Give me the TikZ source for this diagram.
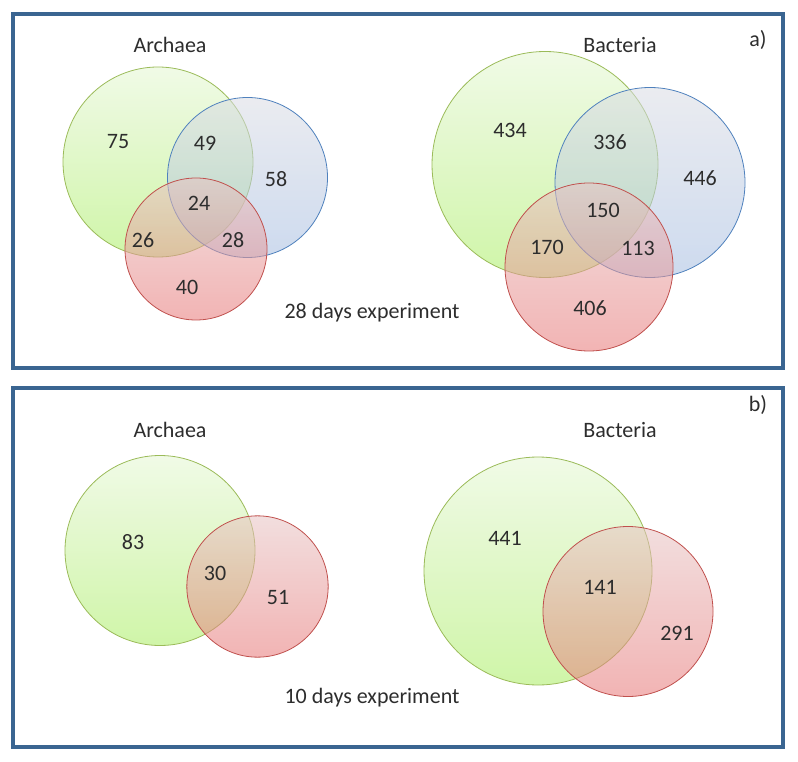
\documentclass[tikz,border=0pt]{standalone}
\usepackage{fontspec}
\setmainfont{Carlito}
\definecolor{frameblue}{RGB}{58,101,145}
\definecolor{txtgray}{RGB}{45,45,45}
\definecolor{grnline}{RGB}{155,187,89}
\definecolor{grntop}{RGB}{228,246,210}
\definecolor{grnbot}{RGB}{168,237,97}
\definecolor{bluline}{RGB}{79,129,189}
\definecolor{blutop}{RGB}{218,220,228}
\definecolor{blubot}{RGB}{164,188,224}
\definecolor{redline}{RGB}{192,80,77}
\definecolor{redtop}{RGB}{231,195,195}
\definecolor{redbot}{RGB}{231,118,118}
\tikzset{
  vset/.style={circle, inner sep=0pt, fill opacity=0.55, draw opacity=1, line width=0.6pt},
  grnset/.style={vset, draw=grnline, top color=grntop, bottom color=grnbot},
  bluset/.style={vset, draw=bluline, top color=blutop, bottom color=blubot},
  redset/.style={vset, draw=redline, top color=redtop, bottom color=redbot},
  panel/.style={draw=frameblue, line width=2.3pt},
  lbl/.style={inner sep=0.75pt, text=txtgray, font=\fontsize{16.5}{20}\selectfont}
}
\begin{document}
\begin{tikzpicture}[x=0.75pt,y=0.75pt,yscale=-1,xscale=1]
\useasboundingbox (0,0) rectangle (798,762);

%Panel frames
\draw [panel] (13,14) rectangle (783,368);
\draw [panel] (13,388) rectangle (783,747);

% Archaea, 28 days
\node [grnset, minimum size=142.5pt] (arcAgrn) at (158,162) {};
\node [bluset, minimum size=120pt] (arcAblu) at (247.5,177.5) {};
\node [redset, minimum size=106.5pt] (arcAred) at (196,249) {};

% Bacteria, 28 days
\node [grnset, minimum size=169.5pt] (bacAgrn) at (545,164.5) {};
\node [bluset, minimum size=142.5pt] (bacAblu) at (650,182.5) {};
\node [redset, minimum size=126pt] (bacAred) at (589,267) {};

% Archaea, 10 days
\node [grnset, minimum size=142.5pt] (arcBgrn) at (160,550.5) {};
\node [redset, minimum size=106pt] (arcBred) at (257.5,586.5) {};

% Bacteria, 10 days
\node [grnset, minimum size=171pt] (bacBgrn) at (538,571) {};
\node [redset, minimum size=127.5pt] (bacBred) at (628,611.5) {};

% Text Nodes, panel a
\node [lbl] (arcAtitle) at (170,45) {Archaea};
\node [lbl] (bacAtitle) at (620,45) {Bacteria};
\node [lbl] (tagA) at (758,40) {a)};
\node [lbl] (expA) at (372,313) {28 days experiment};
\node [lbl] (arcA75) at (118,142) {75};
\node [lbl] (arcA49) at (205,143) {49};
\node [lbl] (arcA58) at (276,179) {58};
\node [lbl] (arcA24) at (199,203) {24};
\node [lbl] (arcA26) at (143,240) {26};
\node [lbl] (arcA28) at (233,240) {28};
\node [lbl] (arcA40) at (187,287) {40};
\node [lbl] (bacA434) at (510,130) {434};
\node [lbl] (bacA336) at (610,142) {336};
\node [lbl] (bacA446) at (700,178) {446};
\node [lbl] (bacA150) at (603,210) {150};
\node [lbl] (bacA170) at (547,247) {170};
\node [lbl] (bacA113) at (638,248) {113};
\node [lbl] (bacA406) at (590,308) {406};

% Text Nodes, panel b
\node [lbl] (arcBtitle) at (170,430) {Archaea};
\node [lbl] (bacBtitle) at (620,430) {Bacteria};
\node [lbl] (tagB) at (758,405) {b)};
\node [lbl] (expB) at (372,698) {10 days experiment};
\node [lbl] (arcB83) at (133,542) {83};
\node [lbl] (arcB30) at (215,573) {30};
\node [lbl] (arcB51) at (278,597) {51};
\node [lbl] (bacB441) at (505,538) {441};
\node [lbl] (bacB141) at (600,587) {141};
\node [lbl] (bacB291) at (677,633) {291};

\end{tikzpicture}
\end{document}
